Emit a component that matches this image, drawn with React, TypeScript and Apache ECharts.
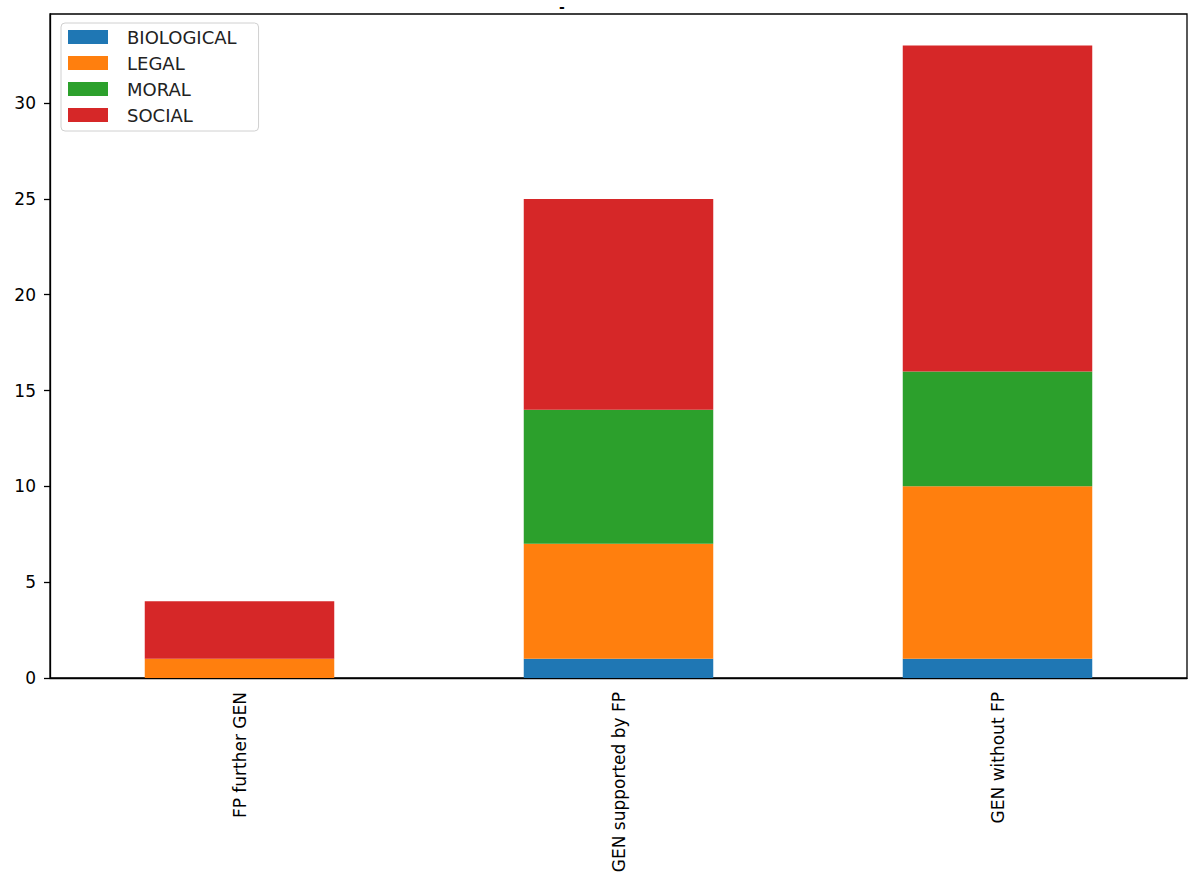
import React, { useEffect, useRef } from "react";
import * as echarts from "echarts";

const categories = ["FP further GEN", "GEN supported by FP", "GEN without FP"];
const seriesNames = ["BIOLOGICAL", "LEGAL", "MORAL", "SOCIAL"];
const biological = [0, 1, 1];
const legal = [1, 6, 9];
const moral = [0, 7, 6];
const social = [3, 11, 17];
const colors = ["#1f77b4", "#ff7f0e", "#2ca02c", "#d62728"];
const yTicks = [0, 5, 10, 15, 20, 25, 30];
const titleText = "-";

export default function App() {
  const ref = useRef<HTMLDivElement>(null);
  useEffect(() => {
    document.body.style.margin = "0";
    const chart = echarts.init(ref.current!, null, { renderer: "svg" });
    const font = "DejaVu Sans";
    const values = [biological, legal, moral, social];
    chart.setOption({
      animation: false,
      textStyle: { fontFamily: font },
      title: {
        text: titleText,
        left: 559,
        top: 0,
        padding: 0,
        textStyle: { fontFamily: font, fontSize: 14, fontWeight: "bold", color: "#000" },
      },
      legend: {
        orient: "vertical",
        left: 61,
        top: 23,
        itemWidth: 40,
        itemHeight: 14,
        itemGap: 8,
        padding: [5, 22, 7, 7],
        borderColor: "#d0d0d0",
        borderWidth: 1,
        borderRadius: 4,
        backgroundColor: "#fff",
        icon: "rect",
        data: seriesNames,
        textStyle: { fontFamily: font, fontSize: 18, color: "#222", padding: [0, 0, 0, 14] },
      },
      grid: {
        left: 50,
        right: 7,
        top: 14,
        bottom: 210,
        show: true,
        borderColor: "#000",
        borderWidth: 1.3,
        backgroundColor: "transparent",
      },
      xAxis: {
        type: "category",
        data: categories,
        boundaryGap: true,
        axisLine: { lineStyle: { color: "#000", width: 1.3 } },
        axisTick: { alignWithLabel: true, length: 6, lineStyle: { color: "#000", width: 1.3 } },
        axisLabel: { rotate: 90, margin: 14, fontSize: 17, color: "#000", fontFamily: font },
        splitLine: { show: false },
      },
      yAxis: {
        type: "value",
        min: 0,
        max: 34.65,
        interval: 5,
        axisLine: { show: true, lineStyle: { color: "#000", width: 1.3 } },
        axisTick: { show: true, length: 6, customValues: yTicks, lineStyle: { color: "#000", width: 1.3 } },
        axisLabel: { margin: 14, fontSize: 17, color: "#000", fontFamily: font, customValues: yTicks },
        splitLine: { show: false },
      },
      series: seriesNames.map((name, i) => ({
        name,
        type: "bar",
        stack: "total",
        barWidth: "50%",
        data: values[i],
        itemStyle: { color: colors[i] },
      })),
    });
    return () => chart.dispose();
  }, []);
  return <div ref={ref} style={{ width: 1194, height: 888 }} />;
}
